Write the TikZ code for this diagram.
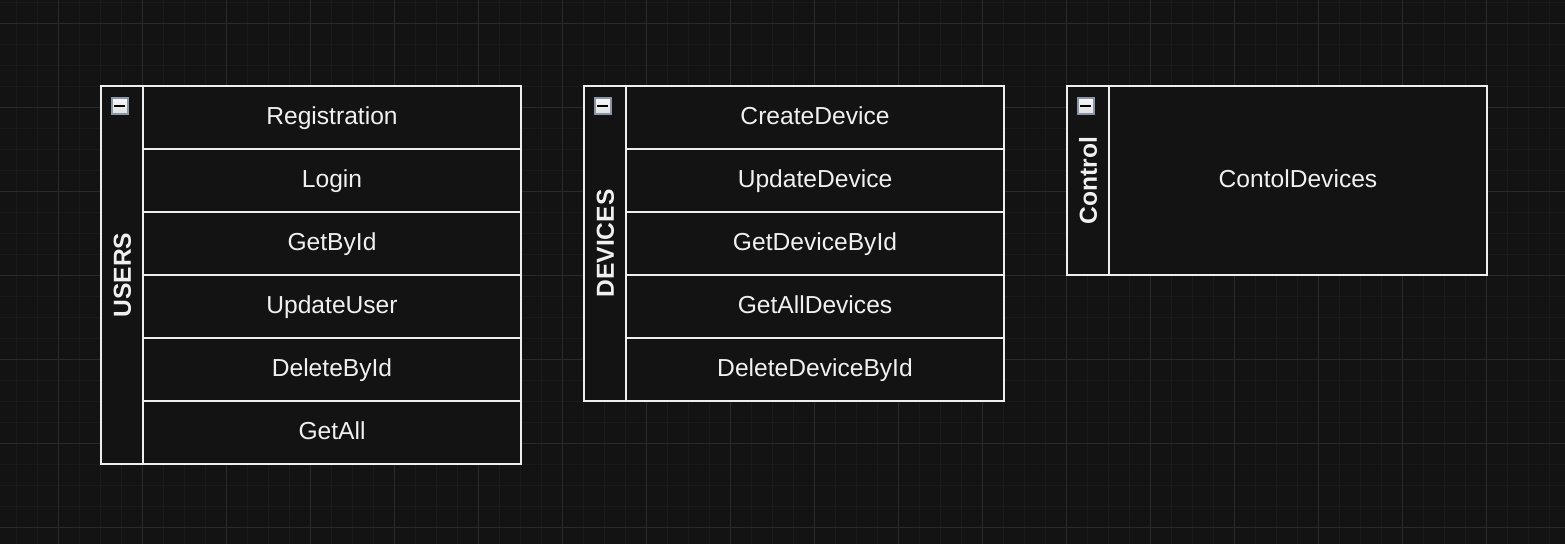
\documentclass[tikz,border=0pt]{standalone}
\usepackage{fontspec}
\setmainfont{Liberation Sans}
\definecolor{bgc}{HTML}{131313}
\definecolor{minorc}{HTML}{1A1A1A}
\definecolor{majorc}{HTML}{2A2A2A}
\definecolor{linec}{HTML}{EEEEEE}
\definecolor{txtc}{HTML}{F0F0F0}
\definecolor{iconb}{HTML}{8C95A5}
\tikzset{
  rowbox/.style={draw=linec, line width=2.1pt, fill=bgc, minimum width=378pt, minimum height=63pt, inner sep=0pt, text=txtc, text height=18pt, text depth=5pt, font=\fontsize{24.6}{29}\selectfont},
  lanehead/.style={draw=linec, line width=2.1pt, fill=bgc, rotate=90, minimum height=42pt, inner sep=0pt, text=txtc, text height=17.6pt, text depth=0pt, font=\bfseries\fontsize{24.6}{29}\selectfont},
  iconbox/.style={draw=iconb, line width=2pt, top color=white!95!gray, bottom color=white!75!gray, minimum size=16pt, inner sep=0pt},
  minusline/.style={draw=black, line width=2pt},
}
\begin{document}
\begin{tikzpicture}[x=1pt,y=-1pt]
\useasboundingbox (0,0) rectangle (1565,544);
\fill[bgc] (0,0) rectangle (1565,544);
% grid
\foreach \i in {0,...,73} \draw[minorc, line width=1pt] ({16.33+21*\i},0) -- ({16.33+21*\i},544);
\foreach \i in {0,...,25} \draw[minorc, line width=1pt] (0,{2.33+21*\i}) -- (1565,{2.33+21*\i});
\foreach \j in {0,...,17} \draw[majorc, line width=1pt] ({58.33+84*\j},0) -- ({58.33+84*\j},544);
\foreach \j in {0,...,6} \draw[majorc, line width=1pt] (0,{23.33+84*\j}) -- (1565,{23.33+84*\j});

% USERS
\node[lanehead, minimum width=378pt] (users) at (122,275) {USERS};
\node[rowbox] (u1) at (332,117.5) {Registration};
\node[rowbox] (u2) at (332,180.5) {Login};
\node[rowbox] (u3) at (332,243.5) {GetById};
\node[rowbox] (u4) at (332,306.5) {UpdateUser};
\node[rowbox] (u5) at (332,369.5) {DeleteById};
\node[rowbox] (u6) at (332,432.5) {GetAll};
\node[iconbox] (ui) at (119.5,105.5) {};
\draw[minusline] ([xshift=-5.5pt]ui.center) -- ([xshift=5.5pt]ui.center);

% DEVICES
\node[lanehead, minimum width=315pt] (devices) at (605,243.5) {DEVICES};
\node[rowbox] (d1) at (815,117.5) {CreateDevice};
\node[rowbox] (d2) at (815,180.5) {UpdateDevice};
\node[rowbox] (d3) at (815,243.5) {GetDeviceById};
\node[rowbox] (d4) at (815,306.5) {GetAllDevices};
\node[rowbox] (d5) at (815,369.5) {DeleteDeviceById};
\node[iconbox] (di) at (602.5,105.5) {};
\draw[minusline] ([xshift=-5.5pt]di.center) -- ([xshift=5.5pt]di.center);

% Control
\node[lanehead, minimum width=189pt] (control) at (1088,180.5) {Control};
\node[rowbox, minimum height=189pt] (c1) at (1298,180.5) {ContolDevices};
\node[iconbox] (ci) at (1085.5,105.5) {};
\draw[minusline] ([xshift=-5.5pt]ci.center) -- ([xshift=5.5pt]ci.center);
\end{tikzpicture}
\end{document}
